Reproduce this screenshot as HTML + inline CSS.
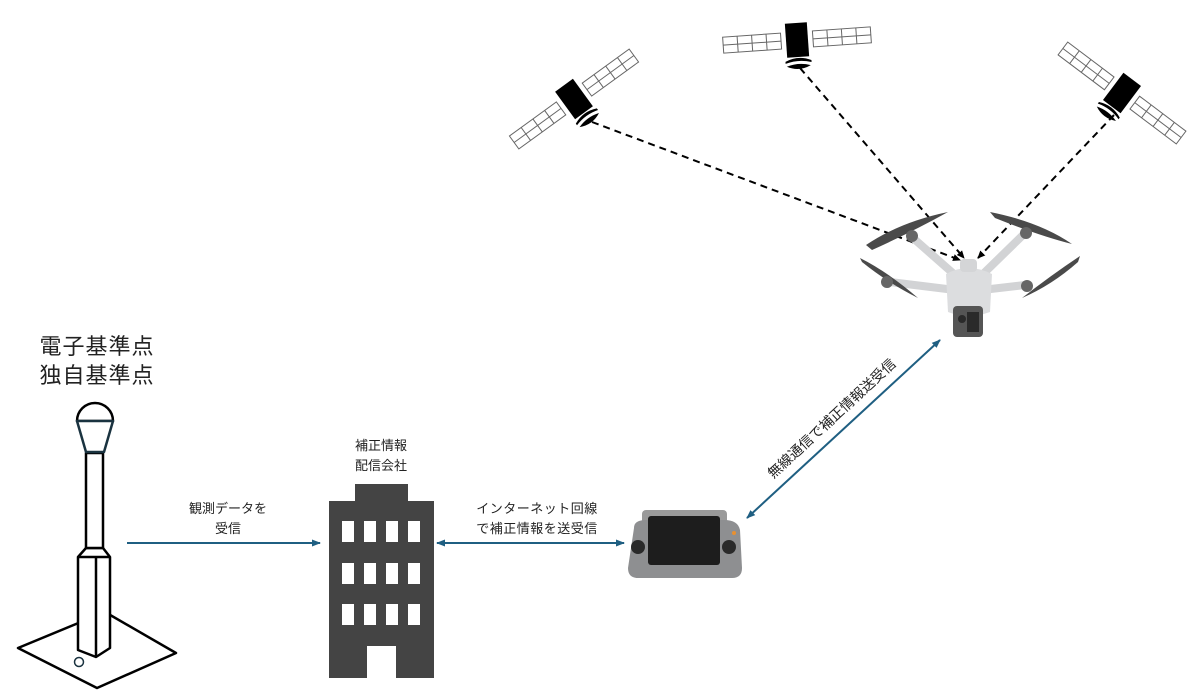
<!DOCTYPE html>
<html><head><meta charset="utf-8"><style>
html,body{margin:0;padding:0;background:#fff;}
svg{display:block;}
text{font-family:"Liberation Sans","Noto Sans CJK JP",sans-serif;fill:#222;}
</style></head><body>
<svg width="1203" height="693" viewBox="0 0 1203 693" xmlns="http://www.w3.org/2000/svg">
<defs>
<marker id="ab" markerWidth="8" markerHeight="8" refX="7" refY="4" orient="auto-start-reverse" markerUnits="userSpaceOnUse"><path d="M0,0.5 L8,4 L0,7.5 z" fill="#000"/></marker>
<marker id="bl" markerWidth="9" markerHeight="8" refX="8" refY="4" orient="auto-start-reverse" markerUnits="userSpaceOnUse"><path d="M0,0.5 L9,4 L0,7.5 z" fill="#1f5f82"/></marker>
<g id="sat">
  <g fill="#fff" stroke="#666" stroke-width="1">
    <rect x="-74" y="-8" width="58" height="16"/>
    <line x1="-74" y1="0" x2="-16" y2="0"/><line x1="-59.5" y1="-8" x2="-59.5" y2="8"/><line x1="-45" y1="-8" x2="-45" y2="8"/><line x1="-30.5" y1="-8" x2="-30.5" y2="8"/>
    <rect x="16" y="-8" width="58" height="16"/>
    <line x1="16" y1="0" x2="74" y2="0"/><line x1="30.5" y1="-8" x2="30.5" y2="8"/><line x1="45" y1="-8" x2="45" y2="8"/><line x1="59.5" y1="-8" x2="59.5" y2="8"/>
  </g>
  <rect x="-11" y="-17" width="22" height="34" fill="#000"/>
  <path d="M-13,21 Q0,15 13,21 L13,23 Q0,19 -13,23 z" fill="#000"/>
  <path d="M-12,26 Q0,22 12,26 Q0,32 -12,26z" fill="#000"/>
</g>
</defs>

<use href="#sat" transform="translate(574,99) rotate(-36)"/>
<use href="#sat" transform="translate(797,40) rotate(-4)"/>
<use href="#sat" transform="translate(1122,93) rotate(37)"/>

<g stroke="#000" stroke-width="2" stroke-dasharray="7,5" fill="none">
<line x1="592" y1="122" x2="960" y2="260" marker-end="url(#ab)"/>
<line x1="800" y1="68" x2="964" y2="258" marker-end="url(#ab)"/>
<line x1="1114" y1="115" x2="978" y2="258" marker-end="url(#ab)"/>
</g>

<!-- drone -->
<g>
  <g stroke="#d2d3d5" stroke-width="8" stroke-linecap="round" fill="none">
    <line x1="955" y1="275" x2="913" y2="238"/>
    <line x1="982" y1="275" x2="1023" y2="235"/>
    <line x1="955" y1="290" x2="890" y2="282"/>
    <line x1="982" y1="290" x2="1025" y2="285"/>
  </g>
  <g fill="#4a4a4a">
    <path d="M866,245 Q900,222 948,212 Q912,232 872,250z"/>
    <path d="M990,212 Q1040,222 1072,244 Q1040,236 995,218z"/>
    <path d="M860,258 Q888,272 918,298 Q888,283 862,262z"/>
    <path d="M1080,256 Q1050,276 1022,298 Q1052,285 1078,262z"/>
  </g>
  <g fill="#666"><circle cx="912" cy="236" r="6"/><circle cx="1026" cy="233" r="6"/><circle cx="887" cy="282" r="6"/><circle cx="1027" cy="286" r="6"/></g>
  <path d="M946,274 Q968,262 992,274 L990,312 Q968,320 948,312z" fill="#dcdddf"/>
  <rect x="960" y="259" width="17" height="13" rx="4" fill="#d4d5d7"/>
  <rect x="953" y="306" width="30" height="31" rx="4" fill="#555"/>
  <circle cx="962" cy="319" r="4" fill="#2a2a2a"/><rect x="967" y="312" width="12" height="20" fill="#2a2a2a"/>
</g>

<line x1="747" y1="518" x2="940" y2="340" stroke="#1f5f82" stroke-width="2" marker-start="url(#bl)" marker-end="url(#bl)"/>
<text x="835" y="422" font-size="14" text-anchor="middle" transform="rotate(-42.7 835 422)">無線通信で補正情報送受信</text>

<g>
  <rect x="642" y="510" width="85" height="14" rx="4" fill="#9a9a9a"/>
  <path d="M634,528 Q634,520 646,520 L724,520 Q738,520 740,530 L742,568 Q742,578 732,578 L638,578 Q628,578 628,568z" fill="#8e8f91"/>
  <rect x="648" y="516" width="72" height="49" rx="3" fill="#1d1d1d"/>
  <circle cx="638" cy="547" r="7" fill="#2a2a2a"/><circle cx="729" cy="547" r="7" fill="#2a2a2a"/>
  <circle cx="734" cy="533" r="2" fill="#e89030"/>
</g>

<g fill="#444">
  <rect x="355" y="484" width="53" height="18"/>
  <rect x="329" y="501" width="105" height="177"/>
</g>
<g fill="#fff">
  <rect x="342" y="521" width="12" height="21"/><rect x="364" y="521" width="12" height="21"/><rect x="386" y="521" width="12" height="21"/><rect x="408" y="521" width="12" height="21"/>
  <rect x="342" y="563" width="12" height="21"/><rect x="364" y="563" width="12" height="21"/><rect x="386" y="563" width="12" height="21"/><rect x="408" y="563" width="12" height="21"/>
  <rect x="342" y="604" width="12" height="21"/><rect x="364" y="604" width="12" height="21"/><rect x="386" y="604" width="12" height="21"/><rect x="408" y="604" width="12" height="21"/>
  <rect x="367" y="646" width="29" height="32"/>
</g>

<line x1="127" y1="543" x2="320" y2="543" stroke="#1f5f82" stroke-width="2" marker-end="url(#bl)"/>
<line x1="437" y1="543" x2="624" y2="543" stroke="#1f5f82" stroke-width="2" marker-start="url(#bl)" marker-end="url(#bl)"/>

<g fill="#fff" stroke="#000" stroke-width="2.5" stroke-linejoin="round">
  <path d="M18,648 L105,612 L176,653 L97,688 z"/>
  <path d="M78,557 L86,548 L103,548 L110,557 L110,648 L96,657 L78,650 z"/>
  <line x1="96" y1="557" x2="96" y2="657"/>
  <line x1="78" y1="557" x2="110" y2="557"/>
  <rect x="86" y="453" width="17" height="95"/>
  <path d="M77,421 A18,18 0 0 1 113,421 z"/>
  <path d="M77,421 L113,421 L104,452 L86,452 z" stroke="#1a3340"/>
</g>
<circle cx="79" cy="662" r="4.5" fill="#fff" stroke="#1a3340" stroke-width="1.5"/>

<text x="97" y="354" font-size="22" text-anchor="middle" letter-spacing="1">電子基準点</text>
<text x="97" y="383" font-size="22" text-anchor="middle" letter-spacing="1">独自基準点</text>
<text x="381" y="450" font-size="13" text-anchor="middle">補正情報</text>
<text x="381" y="470" font-size="13" text-anchor="middle">配信会社</text>
<text x="228" y="513" font-size="13" text-anchor="middle">観測データを</text>
<text x="228" y="533" font-size="13" text-anchor="middle">受信</text>
<text x="537" y="513" font-size="13" text-anchor="middle" letter-spacing="0.5">インターネット回線</text>
<text x="537" y="533" font-size="13" text-anchor="middle" letter-spacing="0.5">で補正情報を送受信</text>
</svg>
</body></html>
